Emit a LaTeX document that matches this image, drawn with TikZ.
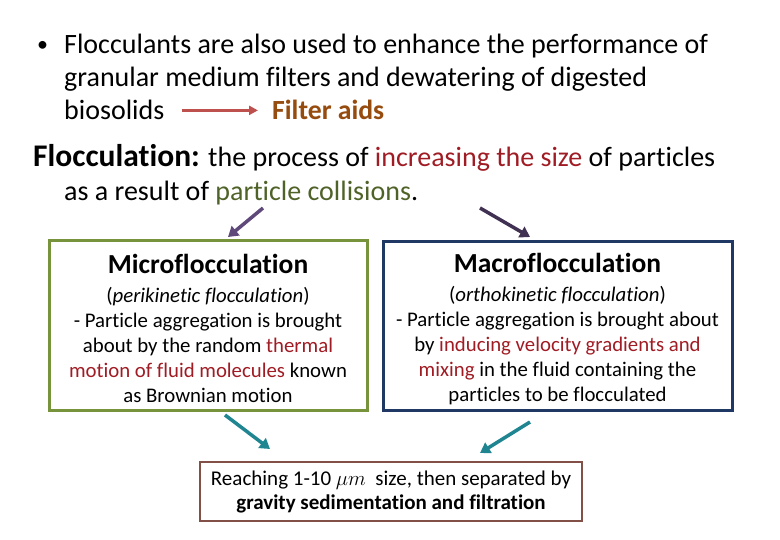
\documentclass[tikz,border=0pt]{standalone}
\usepackage{fontspec}
\setmainfont[Ligatures=NoCommon]{Carlito}
\usetikzlibrary{arrows.meta,positioning}

\definecolor{keyred}{RGB}{160,28,36}
\definecolor{olivetext}{RGB}{79,98,40}
\definecolor{aidbrown}{RGB}{150,75,15}
\definecolor{aidarrow}{RGB}{190,80,77}
\definecolor{microgreen}{RGB}{119,147,60}
\definecolor{macronavy}{RGB}{31,56,100}
\definecolor{lilac}{RGB}{95,73,122}
\definecolor{plum}{RGB}{64,49,82}
\definecolor{teal}{RGB}{31,133,145}
\definecolor{rustbox}{RGB}{130,80,70}

\begin{document}
\begin{tikzpicture}[x=1pt,y=-1pt,>={Triangle[width=12pt,length=10pt]},
    textline/.style={anchor=base west,inner sep=0pt,font=\fontsize{28}{30}\selectfont},
    flocbox/.style={draw,line width=3pt,align=center,inner sep=0pt,font=\fontsize{20.8}{25}\selectfont},
    fat/.style={->,line width=3.5pt}]

    \useasboundingbox (0,0) rectangle (780,540);

    % bullet text
    \node[textline,font=\fontsize{22}{30}\selectfont] (dot) at (37,52) {•};
    \node[textline] (l1) at (64,54) {Flocculants are also used to enhance the performance of};
    \node[textline] (l2) at (64,87) {granular medium filters and dewatering of digested};
    \node[textline] (l3) at (64,120) {biosolids};
    \node[textline,text=aidbrown,font=\fontsize{27.7}{30}\selectfont\bfseries] (aids) at (272,120) {Filter aids};
    \draw[->,aidarrow,line width=2.5pt,>={Triangle[width=9pt,length=9pt]},shorten <=17pt,shorten >=14pt] (l3.east) -- (l3.east -| aids.west);

    % definition
    \node[textline] (def1) at (33,167) {{\fontsize{31.5}{30}\selectfont\bfseries Flocculation:} the process of \textcolor{keyred}{increasing the size} of particles};
    \node[textline] (def2) at (64,201) {as a result of \textcolor{olivetext}{particle collisions}.};

    % the two kinds
    \node[flocbox,draw=microgreen,minimum width=318pt,minimum height=169pt] (micro) at (208,325.5) {%
        {\fontsize{27.5}{28}\selectfont\bfseries\rule{0pt}{25pt}Microflocculation}\\[4pt]
        (\textit{perikinetic flocculation})\\
        - Particle aggregation is brought\\
        about by the random \textcolor{keyred}{thermal}\\
        \textcolor{keyred}{motion of fluid molecules} known\\
        as Brownian motion};
    \node[flocbox,draw=macronavy,minimum width=349pt,minimum height=168pt] (macro) at (557.5,326) {%
        {\fontsize{27.5}{28}\selectfont\bfseries\rule{0pt}{25pt}Macroflocculation}\\[4pt]
        (\textit{orthokinetic flocculation})\\
        - Particle aggregation is brought about\\
        by \textcolor{keyred}{inducing velocity gradients and}\\
        \textcolor{keyred}{mixing} in the fluid containing the\\
        particles to be flocculated};

    % result
    \node[flocbox,draw=rustbox,line width=1.5pt,minimum width=382pt,minimum height=59pt,font=\fontsize{21}{24}\selectfont] (result) at (391,491.5) {%
        Reaching 1-10 $\mu m$\ \ size, then separated by\\
        \textbf{gravity sedimentation and filtration}};

    \coordinate (m0) at (263,208);
    \coordinate (m1) at (228,237);
    \coordinate (n0) at (480,208);
    \coordinate (n1) at (530,237);
    \coordinate (r0) at (225,415);
    \coordinate (r1) at (270,449);
    \coordinate (s0) at (530,422);
    \coordinate (s1) at (480,453);

    \draw[fat,lilac] (m0) -- (m1);
    \draw[fat,plum] (n0) -- (n1);
    \draw[fat,teal] (r0) -- (r1);
    \draw[fat,teal] (s0) -- (s1);

\end{tikzpicture}
\end{document}
